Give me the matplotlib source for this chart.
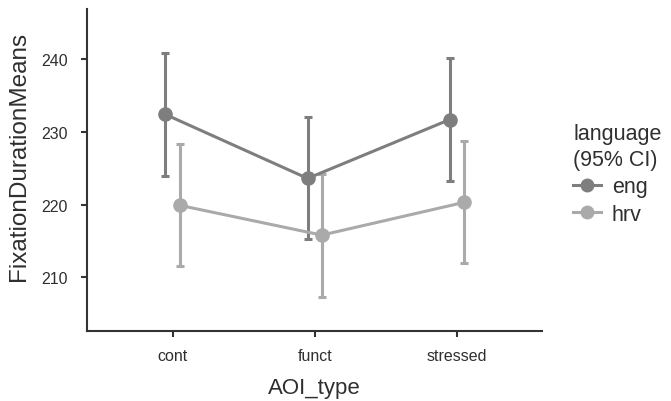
import numpy as np
import matplotlib
matplotlib.use('Agg')
import matplotlib.pyplot as plt
from matplotlib.lines import Line2D

plt.rcParams['font.family'] = ['Liberation Sans', 'DejaVu Sans']

# data
aoi_types = ['cont', 'funct', 'stressed']
eng_mean = [232.4, 223.6, 231.7]
eng_low = [224.0, 215.2, 223.3]
eng_high = [240.9, 232.1, 240.1]
hrv_mean = [219.9, 215.8, 220.3]
hrv_low = [211.5, 207.3, 211.9]
hrv_high = [228.3, 224.2, 228.7]

eng_col = '#7e7e7e'
hrv_col = '#aaaaaa'
text_col = '#2f2f2f'

fig = plt.figure(figsize=(6.71, 4.02), dpi=100)
ax = fig.add_axes([0.13, 0.174, 0.678, 0.801])

x = np.arange(len(aoi_types))
dodge = 0.05
for off, m, lo, hi, col in [(-dodge, eng_mean, eng_low, eng_high, eng_col),
                            (dodge, hrv_mean, hrv_low, hrv_high, hrv_col)]:
    m = np.array(m)
    yerr = [m - np.array(lo), np.array(hi) - m]
    ax.errorbar(x + off, m, yerr=yerr, color=col, marker='o', markersize=9.5,
                linewidth=2.2, elinewidth=2.2, capsize=3, capthick=2.2)

ax.set_xlim(-0.6, 2.6)
ax.set_ylim(202.6, 246.9)
ax.set_yticks([210, 220, 230, 240])
ax.set_xticks(x)
ax.set_xticklabels(aoi_types)
for s in ['top', 'right']:
    ax.spines[s].set_visible(False)
for s in ['left', 'bottom']:
    ax.spines[s].set_linewidth(1.5)
    ax.spines[s].set_color('#333333')
ax.tick_params(labelsize=11.5, labelcolor=text_col, color='#333333', width=1.5, length=4)
ax.tick_params(axis='y', pad=10)
ax.tick_params(axis='x', pad=8)
ax.set_xlabel('AOI_type', fontsize=16, color=text_col, labelpad=10)
ax.set_ylabel('FixationDurationMeans', fontsize=17.5, color=text_col)
ax.yaxis.set_label_coords(-0.125, 0.545)

handles = [Line2D([0], [0], color=eng_col, marker='o', markersize=9, linewidth=2.2),
           Line2D([0], [0], color=hrv_col, marker='o', markersize=9, linewidth=2.2)]
leg = fig.legend(handles, ['eng', 'hrv'], title='language\n(95% CI)', frameon=False,
                 loc='upper left', bbox_to_anchor=(0.854, 0.692), fontsize=15.5,
                 title_fontsize=15.5, handlelength=1.3, handletextpad=0.5,
                 labelspacing=0.3, alignment='left', borderpad=0, borderaxespad=0)
leg.get_title().set_color(text_col)
leg.get_title().set_linespacing(1.3)
for t in leg.get_texts():
    t.set_color(text_col)

fig.savefig('out.png', dpi=100)
